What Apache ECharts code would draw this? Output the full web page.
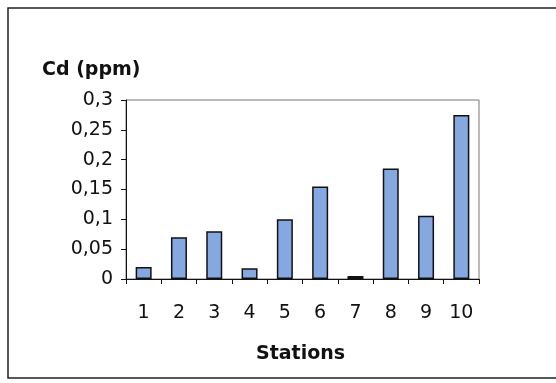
<!DOCTYPE html>
<html><head><meta charset="utf-8">
<script src="https://cdn.jsdelivr.net/npm/echarts@6/dist/echarts.min.js"></script>
<style>html,body{margin:0;padding:0;background:#fff}#c{width:556px;height:383px}</style>
</head><body><div id="c"></div>
<script>
const stations = ['1','2','3','4','5','6','7','8','9','10'];
const cdValues = [0.02, 0.07, 0.08, 0.018, 0.1, 0.155, 0.005, 0.185, 0.106, 0.275];
const yTicks = [0, 0.05, 0.1, 0.15, 0.2, 0.25, 0.3];

const chart = echarts.init(document.getElementById('c'), null, {renderer:'canvas'});
const font = '"DejaVu Sans", sans-serif';
chart.setOption({
  animation:false,
  backgroundColor:'#ffffff',
  graphic:[{type:'rect', shape:{x:8,y:8,width:560,height:370}, style:{fill:'none', stroke:'#222', lineWidth:1.5}, z:-1},
    {type:'text', left:42, top:61, style:{text:'Cd (ppm)', font:'bold 19px '+font, fill:'#111'}},
    {type:'text', left:256, top:345, style:{text:'Stations', font:'bold 19px '+font, fill:'#111'}}],
  grid:{left:126, right:77, top:100, bottom:104, show:true, borderColor:'#777', borderWidth:1},
  xAxis:{type:'category', data:stations,
    axisLine:{lineStyle:{color:'#111', width:1}},
    axisTick:{show:true, alignWithLabel:false, length:5, lineStyle:{color:'#111'}},
    axisLabel:{color:'#111', fontSize:19, fontFamily:font, margin:25}},
  yAxis:{type:'value', min:0, max:0.3, interval:0.05,
    axisLine:{show:true, lineStyle:{color:'#111', width:1}},
    axisTick:{show:true, length:5, lineStyle:{color:'#111'}},
    splitLine:{show:false},
    axisLabel:{color:'#111', fontSize:19, fontFamily:font, margin:13,
      formatter:v=>{const t=yTicks.find(x=>Math.abs(x-v)<1e-9);return t===undefined?'':String(t).replace('.',',');}}},
  series:[{type:'bar', data:cdValues, barWidth:16,
    itemStyle:{color:'#86a8e0', borderColor:'#111', borderWidth:1.5}}]
});
</script></body></html>
